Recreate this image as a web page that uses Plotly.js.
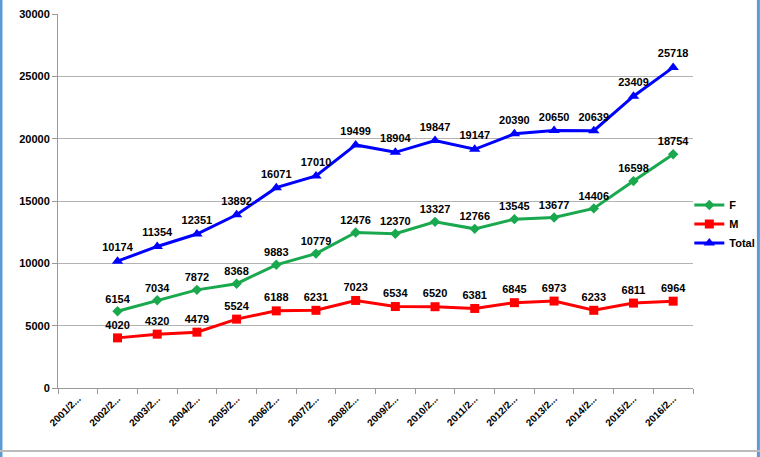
<!DOCTYPE html>
<html><head><meta charset="utf-8">
<script src="https://cdn.plot.ly/plotly-3.0.1.min.js"></script>
<style>html,body{margin:0;padding:0;background:#fff}#chart{width:760px;height:457px}</style>
</head><body><div id="chart"></div>
<script>
const categories = ["2001/2...","2002/2...","2003/2...","2004/2...","2005/2...","2006/2...","2007/2...","2008/2...","2009/2...","2010/2...","2011/2...","2012/2...","2013/2...","2014/2...","2015/2...","2016/2..."];
const dataCategories = categories.slice(1);
const F = [6154,7034,7872,8368,9883,10779,12476,12370,13327,12766,13545,13677,14406,16598,18754];
const M = [4020,4320,4479,5524,6188,6231,7023,6534,6520,6381,6845,6973,6233,6811,6964];
const Total = [10174,11354,12351,13892,16071,17010,19499,18904,19847,19147,20390,20650,20639,23409,25718];
const yTicks = [0,5000,10000,15000,20000,25000,30000];

const labelFont = {family:"Liberation Sans, Arial, sans-serif", size:11, color:"#000", weight:"bold"};
function tr(name, y, color, symbol, msize){
  return {x:dataCategories, y:y, name:name, type:"scatter", mode:"lines+markers+text",
    line:{color:color, width:3}, marker:{color:color, symbol:symbol, size:msize},
    text:y.map(String), textposition:"top center", textfont:labelFont, cliponaxis:false};
}
const traces = [
  tr("F", F, "#1aa84e", "diamond", 8),
  tr("M", M, "#ff0000", "square", 9),
  tr("Total", Total, "#0000ff", "triangle-up", 10)
];
const layout = {
  width:760, height:457,
  margin:{l:58, r:67, t:14, b:69, autoexpand:false},
  paper_bgcolor:"#fff", plot_bgcolor:"#fff",
  showlegend:true,
  legend:{xref:"container", yref:"container", x:0.907, y:0.51, xanchor:"left", yanchor:"middle",
    font:{family:"Liberation Sans, Arial, sans-serif", size:11, color:"#000", weight:"bold"}, tracegroupgap:0, itemwidth:30, bgcolor:"rgba(0,0,0,0)"},
  xaxis:{type:"category", categoryorder:"array", categoryarray:categories, range:[-0.5,15.5],
    tickangle:-45, tickson:"boundaries", ticks:"outside", ticklen:5, tickcolor:"#999",
    showline:true, linecolor:"#999", linewidth:1, showgrid:false,
    tickfont:{family:"Liberation Sans, Arial, sans-serif", size:10, color:"#000", weight:"bold"}},
  yaxis:{range:[0,30000], tickvals:yTicks, ticktext:yTicks.map(String), ticks:"outside", ticklen:5, tickcolor:"#999",
    showline:true, linecolor:"#999", linewidth:1, showgrid:true, gridcolor:"#b3b3b3", gridwidth:1, zeroline:false,
    tickfont:{family:"Liberation Sans, Arial, sans-serif", size:11, color:"#000", weight:"bold"}},
  shapes:[
    {type:"line", xref:"paper", yref:"paper", x0:-0.0898, x1:-0.0898, y0:1.04, y1:-0.185, line:{color:"#5b9bd5", width:3}},
    {type:"line", xref:"paper", yref:"paper", x0:1.103, x1:1.103, y0:1.04, y1:-0.185, line:{color:"#5b9bd5", width:3}},
    {type:"line", xref:"paper", yref:"paper", x0:-0.092, x1:1.106, y0:-0.1684, y1:-0.1684, line:{color:"#bbbbbb", width:2}}
  ]
};
Plotly.newPlot("chart", traces, layout, {staticPlot:true, displayModeBar:false});
</script></body></html>
